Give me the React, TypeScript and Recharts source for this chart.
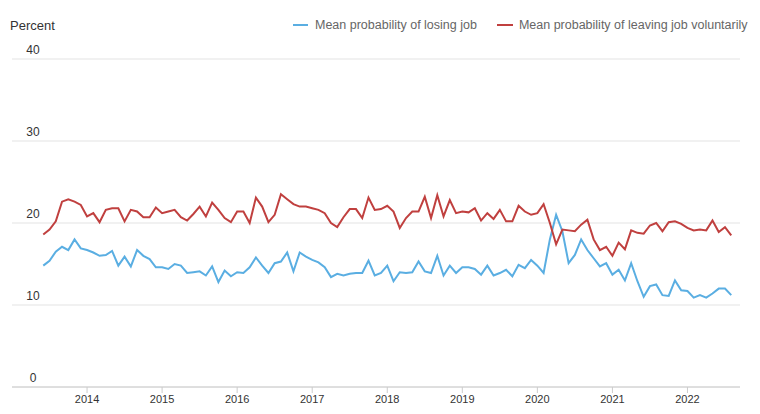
import { LineChart, Line, XAxis, YAxis, CartesianGrid } from "recharts"

// monthly survey readings, June 2013 to August 2022
const startYear = 2013
const startMonth = 6

const losingJob = [
  14.8, 15.4, 16.5, 17.1, 16.7, 18.0, 16.9,
  16.7, 16.4, 16.0, 16.1, 16.6, 14.8, 15.9, 14.7, 16.7, 16.0, 15.6, 14.6,
  14.6, 14.4, 15.0, 14.8, 13.9, 14.0, 14.1, 13.6, 14.7, 12.8, 14.2, 13.5,
  14.0, 13.9, 14.6, 15.8, 14.8, 13.9, 15.1, 15.3, 16.4, 14.1, 16.4, 15.9,
  15.5, 15.2, 14.6, 13.4, 13.8, 13.6, 13.8, 13.9, 13.9, 15.4, 13.6, 13.9,
  14.8, 12.9, 14.0, 13.9, 14.0, 15.3, 14.1, 13.9, 16.0, 13.6, 14.8, 13.9,
  14.6, 14.6, 14.4, 13.7, 14.8, 13.6, 13.9, 14.3, 13.5, 14.9, 14.5, 15.5,
  14.8, 13.9, 18.0, 21.0, 19.0, 15.1, 16.1, 18.0, 16.7, 15.7, 14.7, 15.1,
  13.7, 14.3, 13.0, 15.1, 12.9, 11.0, 12.3, 12.5, 11.2, 11.1, 13.0, 11.8,
  11.7, 10.9, 11.2, 10.9, 11.4, 12.0, 12.0, 11.2,
]

const leavingJob = [
  18.6, 19.2, 20.2, 22.6, 22.9, 22.6, 22.2,
  20.8, 21.2, 20.1, 21.6, 21.8, 21.8, 20.2, 21.6, 21.4, 20.7, 20.7, 21.9,
  21.2, 21.4, 21.6, 20.7, 20.3, 21.1, 22.0, 20.8, 22.5, 21.6, 20.6, 20.1,
  21.4, 21.4, 20.0, 23.1, 22.0, 20.1, 21.0, 23.5, 22.9, 22.3, 22.0, 22.0,
  21.8, 21.6, 21.2, 20.0, 19.5, 20.7, 21.7, 21.7, 20.6, 23.1, 21.6, 21.7,
  22.1, 21.4, 19.4, 20.6, 21.4, 21.4, 23.2, 20.6, 23.4, 20.8, 22.8, 21.2,
  21.4, 21.3, 21.8, 20.3, 21.2, 20.5, 21.6, 20.2, 20.2, 22.1, 21.4, 21.0,
  21.2, 22.3, 20.0, 17.4, 19.2, 19.1, 19.0, 19.8, 20.4, 18.0, 16.7, 17.1,
  16.0, 17.6, 16.8, 19.1, 18.8, 18.7, 19.7, 20.0, 19.0, 20.1, 20.2, 19.9,
  19.4, 19.1, 19.2, 19.1, 20.3, 18.9, 19.5, 18.5,
]

const yearTicks = [2014, 2015, 2016, 2017, 2018, 2019, 2020, 2021, 2022]
const pctTicks = [0, 10, 20, 30, 40]

const seriesNames = ["Mean probability of losing job", "Mean probability of leaving job voluntarily"]

const data = losingJob.map((v, i) => ({
  t: startYear + (startMonth - 1 + i) / 12,
  lose: v,
  leave: leavingJob[i],
}))

const BLUE = "#5aaee2"
const RED = "#c0403f"
const font = "'Liberation Sans', Arial, sans-serif"

const YTick = ({ y, payload }: any) => (
  <text x={33} y={y - 5} textAnchor="middle" fontSize={12} fill="#333" fontFamily={font}>
    {payload.value}
  </text>
)

export default function App() {
  return (
    <div style={{ position: "absolute", left: 0, top: 0, width: 760, height: 414, background: "#fff", fontFamily: font }}>
      <div style={{ position: "absolute", left: 10, top: 18, fontSize: 13, color: "#333" }}>Percent</div>
      <div style={{ position: "absolute", left: 293, top: 18, fontSize: 12.5, color: "#666", display: "flex", alignItems: "center", whiteSpace: "nowrap" }}>
        <span style={{ width: 15, height: 2, background: BLUE, marginRight: 7 }} />
        <span>{seriesNames[0]}</span>
        <span style={{ width: 16, height: 2, background: RED, marginLeft: 20, marginRight: 6 }} />
        <span>{seriesNames[1]}</span>
      </div>
      <LineChart width={760} height={414} data={data} margin={{ top: 59, right: 20, bottom: 0, left: -28 }}>
        <CartesianGrid horizontal vertical={false} stroke="#e3e3e3" />
        <XAxis
          dataKey="t"
          type="number"
          domain={[2013, 2022.7]}
          ticks={yearTicks}
          allowDataOverflow
          height={27}
          tick={{ fontSize: 11, fill: "#333", fontFamily: font }}
          tickFormatter={(v: number) => String(Math.round(v))}
          axisLine={{ stroke: "#ccc" }}
          tickLine={{ stroke: "#ccc" }}
          tickSize={6}
        />
        <YAxis width={40} domain={[0, 40]} ticks={pctTicks} axisLine={false} tickLine={false} tick={<YTick />} />
        <Line dataKey="lose" name={seriesNames[0]} stroke={BLUE} strokeWidth={2} dot={false} isAnimationActive={false} />
        <Line dataKey="leave" name={seriesNames[1]} stroke={RED} strokeWidth={2} dot={false} isAnimationActive={false} />
      </LineChart>
    </div>
  )
}
